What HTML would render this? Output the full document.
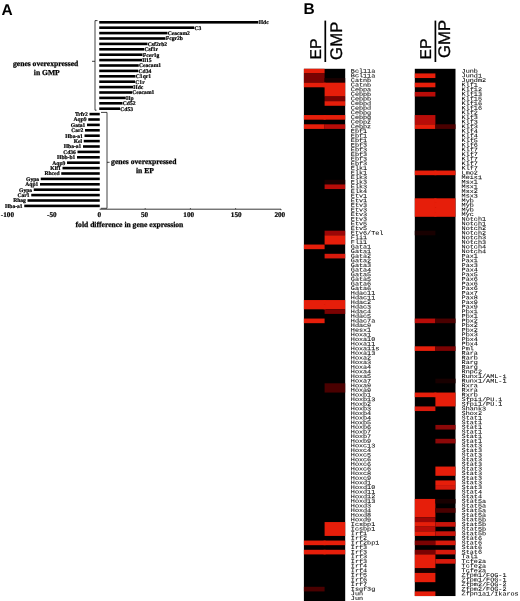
<!DOCTYPE html>
<html><head><meta charset="utf-8"><title>Figure</title>
<style>
html,body{margin:0;padding:0;background:#fff;}
body{width:520px;height:601px;overflow:hidden;}
svg{display:block;text-rendering:geometricPrecision;}
.lab text{font-family:"Liberation Mono","DejaVu Sans Mono",monospace;font-size:6.8px;fill:#000;stroke:#000;stroke-width:0.07px;}
.hd{font-family:"Liberation Sans",Arial,sans-serif;font-size:16px;fill:#000;stroke:#000;stroke-width:0.3px;}
.pl{font-family:"Liberation Sans",Arial,sans-serif;font-weight:bold;fill:#000;}
.bl text{font-family:"Liberation Serif","Times New Roman",serif;font-weight:bold;font-size:5.6px;fill:#000;stroke:#000;stroke-width:0.2px;}
.ax text{font-family:"Liberation Serif","Times New Roman",serif;font-weight:bold;font-size:7.2px;fill:#000;stroke:#000;stroke-width:0.2px;}
.tt text{font-family:"Liberation Serif","Times New Roman",serif;font-weight:bold;font-size:7.6px;fill:#000;stroke:#000;stroke-width:0.25px;}
</style></head><body>
<svg width="520" height="601" viewBox="0 0 520 601">
<rect x="0" y="0" width="520" height="601" fill="#fff"/>
<rect x="303.9" y="68.8" width="41.30" height="533.20" fill="#000"/>
<rect x="303.9" y="68.80" width="20.70" height="4.62" fill="#e61e0a"/>
<rect x="303.9" y="73.42" width="20.70" height="9.25" fill="#7a0202"/>
<rect x="303.9" y="82.67" width="20.70" height="4.62" fill="#e61e0a"/>
<rect x="303.9" y="115.05" width="20.70" height="4.62" fill="#e61e0a"/>
<rect x="303.9" y="124.30" width="20.70" height="4.62" fill="#e61e0a"/>
<rect x="303.9" y="244.55" width="20.70" height="4.62" fill="#e61e0a"/>
<rect x="303.9" y="300.05" width="20.70" height="9.25" fill="#e61e0a"/>
<rect x="303.9" y="318.55" width="20.70" height="4.62" fill="#e61e0a"/>
<rect x="303.9" y="540.55" width="20.70" height="4.62" fill="#e61e0a"/>
<rect x="303.9" y="549.80" width="20.70" height="4.62" fill="#e61e0a"/>
<rect x="303.9" y="586.80" width="20.70" height="4.62" fill="#4a0000"/>
<rect x="324.6" y="78.05" width="20.60" height="4.62" fill="#180000"/>
<rect x="324.6" y="82.67" width="20.60" height="13.88" fill="#e61e0a"/>
<rect x="324.6" y="96.55" width="20.60" height="4.62" fill="#7a0202"/>
<rect x="324.6" y="101.17" width="20.60" height="4.62" fill="#e61e0a"/>
<rect x="324.6" y="115.05" width="20.60" height="4.62" fill="#e61e0a"/>
<rect x="324.6" y="124.30" width="20.60" height="4.62" fill="#b80c08"/>
<rect x="324.6" y="179.80" width="20.60" height="4.62" fill="#180000"/>
<rect x="324.6" y="184.43" width="20.60" height="4.62" fill="#b80c08"/>
<rect x="324.6" y="230.68" width="20.60" height="4.62" fill="#9c0606"/>
<rect x="324.6" y="235.30" width="20.60" height="9.25" fill="#e61e0a"/>
<rect x="324.6" y="253.80" width="20.60" height="4.62" fill="#d81a0c"/>
<rect x="324.6" y="300.05" width="20.60" height="9.25" fill="#e61e0a"/>
<rect x="324.6" y="309.30" width="20.60" height="4.62" fill="#7a0202"/>
<rect x="324.6" y="383.30" width="20.60" height="9.25" fill="#4a0000"/>
<rect x="324.6" y="522.05" width="20.60" height="13.88" fill="#e61e0a"/>
<rect x="324.6" y="540.55" width="20.60" height="4.62" fill="#e61e0a"/>
<rect x="324.6" y="549.80" width="20.60" height="4.62" fill="#e61e0a"/>
<rect x="323.6" y="82.67" width="2" height="4.62" fill="#e61e0a"/>
<rect x="323.6" y="115.05" width="2" height="4.62" fill="#e61e0a"/>
<rect x="323.6" y="300.05" width="2" height="4.62" fill="#e61e0a"/>
<rect x="323.6" y="304.68" width="2" height="4.62" fill="#e61e0a"/>
<rect x="323.6" y="540.55" width="2" height="4.62" fill="#e61e0a"/>
<rect x="323.6" y="549.80" width="2" height="4.62" fill="#e61e0a"/>
<g class="lab">
<text transform="translate(350.8 72.70) scale(1 .85) rotate(0.3)">Bcl11a</text>
<text transform="translate(350.8 77.33) scale(1 .85) rotate(0.3)">Bcl11a</text>
<text transform="translate(350.8 81.95) scale(1 .85) rotate(0.3)">Catnb</text>
<text transform="translate(350.8 86.58) scale(1 .85) rotate(0.3)">Catnb</text>
<text transform="translate(350.8 91.20) scale(1 .85) rotate(0.3)">Cebpa</text>
<text transform="translate(350.8 95.83) scale(1 .85) rotate(0.3)">Cebpb</text>
<text transform="translate(350.8 100.45) scale(1 .85) rotate(0.3)">Cebpb</text>
<text transform="translate(350.8 105.08) scale(1 .85) rotate(0.3)">Cebpd</text>
<text transform="translate(350.8 109.70) scale(1 .85) rotate(0.3)">Cebpd</text>
<text transform="translate(350.8 114.33) scale(1 .85) rotate(0.3)">Cebpg</text>
<text transform="translate(350.8 118.95) scale(1 .85) rotate(0.3)">Cebpg</text>
<text transform="translate(350.8 123.58) scale(1 .85) rotate(0.3)">Cebpz</text>
<text transform="translate(350.8 128.20) scale(1 .85) rotate(0.3)">Cebpz</text>
<text transform="translate(350.8 132.83) scale(1 .85) rotate(0.3)">Ebf1</text>
<text transform="translate(350.8 137.45) scale(1 .85) rotate(0.3)">Ebf1</text>
<text transform="translate(350.8 142.08) scale(1 .85) rotate(0.3)">Ebf1</text>
<text transform="translate(350.8 146.70) scale(1 .85) rotate(0.3)">Ebf3</text>
<text transform="translate(350.8 151.33) scale(1 .85) rotate(0.3)">Ebf3</text>
<text transform="translate(350.8 155.95) scale(1 .85) rotate(0.3)">Ebf3</text>
<text transform="translate(350.8 160.58) scale(1 .85) rotate(0.3)">Ebf3</text>
<text transform="translate(350.8 165.20) scale(1 .85) rotate(0.3)">Ebf3</text>
<text transform="translate(350.8 169.83) scale(1 .85) rotate(0.3)">Elk1</text>
<text transform="translate(350.8 174.45) scale(1 .85) rotate(0.3)">Elk1</text>
<text transform="translate(350.8 179.08) scale(1 .85) rotate(0.3)">Elk3</text>
<text transform="translate(350.8 183.70) scale(1 .85) rotate(0.3)">Elk3</text>
<text transform="translate(350.8 188.33) scale(1 .85) rotate(0.3)">Elk3</text>
<text transform="translate(350.8 192.95) scale(1 .85) rotate(0.3)">Elk4</text>
<text transform="translate(350.8 197.58) scale(1 .85) rotate(0.3)">Etv1</text>
<text transform="translate(350.8 202.20) scale(1 .85) rotate(0.3)">Etv1</text>
<text transform="translate(350.8 206.83) scale(1 .85) rotate(0.3)">Etv3</text>
<text transform="translate(350.8 211.45) scale(1 .85) rotate(0.3)">Etv3</text>
<text transform="translate(350.8 216.08) scale(1 .85) rotate(0.3)">Etv3</text>
<text transform="translate(350.8 220.70) scale(1 .85) rotate(0.3)">Etv3</text>
<text transform="translate(350.8 225.33) scale(1 .85) rotate(0.3)">Etv5</text>
<text transform="translate(350.8 229.95) scale(1 .85) rotate(0.3)">Etv5</text>
<text transform="translate(350.8 234.58) scale(1 .85) rotate(0.3)">Etv6/Tel</text>
<text transform="translate(350.8 239.20) scale(1 .85) rotate(0.3)">Fli1</text>
<text transform="translate(350.8 243.83) scale(1 .85) rotate(0.3)">Fli1</text>
<text transform="translate(350.8 248.45) scale(1 .85) rotate(0.3)">Gata1</text>
<text transform="translate(350.8 253.08) scale(1 .85) rotate(0.3)">Gata1</text>
<text transform="translate(350.8 257.70) scale(1 .85) rotate(0.3)">Gata2</text>
<text transform="translate(350.8 262.32) scale(1 .85) rotate(0.3)">Gata2</text>
<text transform="translate(350.8 266.95) scale(1 .85) rotate(0.3)">Gata3</text>
<text transform="translate(350.8 271.57) scale(1 .85) rotate(0.3)">Gata4</text>
<text transform="translate(350.8 276.20) scale(1 .85) rotate(0.3)">Gata5</text>
<text transform="translate(350.8 280.82) scale(1 .85) rotate(0.3)">Gata5</text>
<text transform="translate(350.8 285.45) scale(1 .85) rotate(0.3)">Gata6</text>
<text transform="translate(350.8 290.07) scale(1 .85) rotate(0.3)">Gata6</text>
<text transform="translate(350.8 294.70) scale(1 .85) rotate(0.3)">Hdac11</text>
<text transform="translate(350.8 299.32) scale(1 .85) rotate(0.3)">Hdac11</text>
<text transform="translate(350.8 303.95) scale(1 .85) rotate(0.3)">Hdac2</text>
<text transform="translate(350.8 308.57) scale(1 .85) rotate(0.3)">Hdac3</text>
<text transform="translate(350.8 313.20) scale(1 .85) rotate(0.3)">Hdac4</text>
<text transform="translate(350.8 317.82) scale(1 .85) rotate(0.3)">Hdac5</text>
<text transform="translate(350.8 322.45) scale(1 .85) rotate(0.3)">Hdac7a</text>
<text transform="translate(350.8 327.07) scale(1 .85) rotate(0.3)">Hdac9</text>
<text transform="translate(350.8 331.70) scale(1 .85) rotate(0.3)">Hesx1</text>
<text transform="translate(350.8 336.32) scale(1 .85) rotate(0.3)">Hoxa1</text>
<text transform="translate(350.8 340.95) scale(1 .85) rotate(0.3)">Hoxa10</text>
<text transform="translate(350.8 345.57) scale(1 .85) rotate(0.3)">Hoxa11</text>
<text transform="translate(350.8 350.20) scale(1 .85) rotate(0.3)">Hoxa11s</text>
<text transform="translate(350.8 354.82) scale(1 .85) rotate(0.3)">Hoxa13</text>
<text transform="translate(350.8 359.45) scale(1 .85) rotate(0.3)">Hoxa2</text>
<text transform="translate(350.8 364.07) scale(1 .85) rotate(0.3)">Hoxa3</text>
<text transform="translate(350.8 368.70) scale(1 .85) rotate(0.3)">Hoxa4</text>
<text transform="translate(350.8 373.32) scale(1 .85) rotate(0.3)">Hoxa4</text>
<text transform="translate(350.8 377.95) scale(1 .85) rotate(0.3)">Hoxa5</text>
<text transform="translate(350.8 382.57) scale(1 .85) rotate(0.3)">Hoxa7</text>
<text transform="translate(350.8 387.20) scale(1 .85) rotate(0.3)">Hoxa9</text>
<text transform="translate(350.8 391.82) scale(1 .85) rotate(0.3)">Hoxa9</text>
<text transform="translate(350.8 396.45) scale(1 .85) rotate(0.3)">Hoxb1</text>
<text transform="translate(350.8 401.07) scale(1 .85) rotate(0.3)">Hoxb13</text>
<text transform="translate(350.8 405.70) scale(1 .85) rotate(0.3)">Hoxb2</text>
<text transform="translate(350.8 410.32) scale(1 .85) rotate(0.3)">Hoxb3</text>
<text transform="translate(350.8 414.95) scale(1 .85) rotate(0.3)">Hoxb4</text>
<text transform="translate(350.8 419.57) scale(1 .85) rotate(0.3)">Hoxb4</text>
<text transform="translate(350.8 424.20) scale(1 .85) rotate(0.3)">Hoxb5</text>
<text transform="translate(350.8 428.82) scale(1 .85) rotate(0.3)">Hoxb6</text>
<text transform="translate(350.8 433.45) scale(1 .85) rotate(0.3)">Hoxb7</text>
<text transform="translate(350.8 438.07) scale(1 .85) rotate(0.3)">Hoxb7</text>
<text transform="translate(350.8 442.70) scale(1 .85) rotate(0.3)">Hoxb9</text>
<text transform="translate(350.8 447.32) scale(1 .85) rotate(0.3)">Hoxc13</text>
<text transform="translate(350.8 451.95) scale(1 .85) rotate(0.3)">Hoxc4</text>
<text transform="translate(350.8 456.57) scale(1 .85) rotate(0.3)">Hoxc5</text>
<text transform="translate(350.8 461.20) scale(1 .85) rotate(0.3)">Hoxc6</text>
<text transform="translate(350.8 465.82) scale(1 .85) rotate(0.3)">Hoxc6</text>
<text transform="translate(350.8 470.45) scale(1 .85) rotate(0.3)">Hoxc6</text>
<text transform="translate(350.8 475.07) scale(1 .85) rotate(0.3)">Hoxc8</text>
<text transform="translate(350.8 479.70) scale(1 .85) rotate(0.3)">Hoxc9</text>
<text transform="translate(350.8 484.32) scale(1 .85) rotate(0.3)">Hoxd1</text>
<text transform="translate(350.8 488.95) scale(1 .85) rotate(0.3)">Hoxd10</text>
<text transform="translate(350.8 493.57) scale(1 .85) rotate(0.3)">Hoxd11</text>
<text transform="translate(350.8 498.20) scale(1 .85) rotate(0.3)">Hoxd12</text>
<text transform="translate(350.8 502.82) scale(1 .85) rotate(0.3)">Hoxd13</text>
<text transform="translate(350.8 507.45) scale(1 .85) rotate(0.3)">Hoxd3</text>
<text transform="translate(350.8 512.08) scale(1 .85) rotate(0.3)">Hoxd4</text>
<text transform="translate(350.8 516.70) scale(1 .85) rotate(0.3)">Hoxd8</text>
<text transform="translate(350.8 521.32) scale(1 .85) rotate(0.3)">Hoxd9</text>
<text transform="translate(350.8 525.95) scale(1 .85) rotate(0.3)">Icsbp1</text>
<text transform="translate(350.8 530.57) scale(1 .85) rotate(0.3)">Icsbp1</text>
<text transform="translate(350.8 535.20) scale(1 .85) rotate(0.3)">Irf1</text>
<text transform="translate(350.8 539.82) scale(1 .85) rotate(0.3)">Irf2</text>
<text transform="translate(350.8 544.45) scale(1 .85) rotate(0.3)">Irf2bp1</text>
<text transform="translate(350.8 549.07) scale(1 .85) rotate(0.3)">Irf3</text>
<text transform="translate(350.8 553.70) scale(1 .85) rotate(0.3)">Irf3</text>
<text transform="translate(350.8 558.32) scale(1 .85) rotate(0.3)">Irf3</text>
<text transform="translate(350.8 562.95) scale(1 .85) rotate(0.3)">Irf3</text>
<text transform="translate(350.8 567.57) scale(1 .85) rotate(0.3)">Irf4</text>
<text transform="translate(350.8 572.20) scale(1 .85) rotate(0.3)">Irf4</text>
<text transform="translate(350.8 576.82) scale(1 .85) rotate(0.3)">Irf5</text>
<text transform="translate(350.8 581.45) scale(1 .85) rotate(0.3)">Irf6</text>
<text transform="translate(350.8 586.07) scale(1 .85) rotate(0.3)">Irf7</text>
<text transform="translate(350.8 590.70) scale(1 .85) rotate(0.3)">Isgf3g</text>
<text transform="translate(350.8 595.32) scale(1 .85) rotate(0.3)">Jun</text>
<text transform="translate(350.8 599.95) scale(1 .85) rotate(0.3)">Jun</text>
</g>
<rect x="414.8" y="68.8" width="40.70" height="527.25" fill="#000"/>
<rect x="414.8" y="73.42" width="20.60" height="4.62" fill="#e61e0a"/>
<rect x="414.8" y="82.67" width="20.60" height="4.62" fill="#e61e0a"/>
<rect x="414.8" y="91.92" width="20.60" height="4.62" fill="#b80c08"/>
<rect x="414.8" y="115.05" width="20.60" height="9.25" fill="#b80c08"/>
<rect x="414.8" y="124.30" width="20.60" height="4.62" fill="#e61e0a"/>
<rect x="414.8" y="170.55" width="20.60" height="4.62" fill="#e61e0a"/>
<rect x="414.8" y="198.30" width="20.60" height="18.50" fill="#e61e0a"/>
<rect x="414.8" y="230.68" width="20.60" height="4.62" fill="#180000"/>
<rect x="414.8" y="318.55" width="20.60" height="4.62" fill="#b80c08"/>
<rect x="414.8" y="346.30" width="20.60" height="4.62" fill="#e61e0a"/>
<rect x="414.8" y="392.55" width="20.60" height="4.62" fill="#e61e0a"/>
<rect x="414.8" y="406.43" width="20.60" height="4.62" fill="#d81a0c"/>
<rect x="414.8" y="498.93" width="20.60" height="18.50" fill="#e61e0a"/>
<rect x="414.8" y="517.42" width="20.60" height="4.62" fill="#9c0606"/>
<rect x="414.8" y="522.05" width="20.60" height="4.62" fill="#e61e0a"/>
<rect x="414.8" y="526.67" width="20.60" height="4.62" fill="#b80c08"/>
<rect x="414.8" y="531.30" width="20.60" height="4.62" fill="#e61e0a"/>
<rect x="414.8" y="540.55" width="20.60" height="4.62" fill="#7a0202"/>
<rect x="414.8" y="549.80" width="20.60" height="4.62" fill="#7a0202"/>
<rect x="414.8" y="554.42" width="20.60" height="13.88" fill="#e61e0a"/>
<rect x="414.8" y="568.30" width="20.60" height="4.62" fill="#180000"/>
<rect x="414.8" y="572.92" width="20.60" height="9.25" fill="#e61e0a"/>
<rect x="414.8" y="591.42" width="20.60" height="4.62" fill="#e61e0a"/>
<rect x="435.4" y="124.30" width="20.10" height="4.62" fill="#4a0000"/>
<rect x="435.4" y="170.55" width="20.10" height="4.62" fill="#e61e0a"/>
<rect x="435.4" y="198.30" width="20.10" height="18.50" fill="#e61e0a"/>
<rect x="435.4" y="318.55" width="20.10" height="4.62" fill="#4a0000"/>
<rect x="435.4" y="346.30" width="20.10" height="4.62" fill="#7a0202"/>
<rect x="435.4" y="378.68" width="20.10" height="4.62" fill="#180000"/>
<rect x="435.4" y="392.55" width="20.10" height="13.88" fill="#e61e0a"/>
<rect x="435.4" y="424.93" width="20.10" height="4.62" fill="#8c0808"/>
<rect x="435.4" y="438.80" width="20.10" height="4.62" fill="#8c0808"/>
<rect x="435.4" y="466.55" width="20.10" height="9.25" fill="#e61e0a"/>
<rect x="435.4" y="480.43" width="20.10" height="4.62" fill="#e61e0a"/>
<rect x="435.4" y="485.05" width="20.10" height="4.62" fill="#d81a0c"/>
<rect x="435.4" y="498.93" width="20.10" height="4.62" fill="#180000"/>
<rect x="435.4" y="508.18" width="20.10" height="4.62" fill="#4a0000"/>
<rect x="435.4" y="522.05" width="20.10" height="4.62" fill="#c8140a"/>
<rect x="435.4" y="531.30" width="20.10" height="4.62" fill="#c8140a"/>
<rect x="435.4" y="540.55" width="20.10" height="4.62" fill="#d81a0c"/>
<rect x="435.4" y="549.80" width="20.10" height="4.62" fill="#d81a0c"/>
<rect x="435.4" y="559.05" width="20.10" height="4.62" fill="#d81a0c"/>
<rect x="434.4" y="170.55" width="2" height="4.62" fill="#e61e0a"/>
<rect x="434.4" y="198.30" width="2" height="4.62" fill="#e61e0a"/>
<rect x="434.4" y="202.93" width="2" height="4.62" fill="#e61e0a"/>
<rect x="434.4" y="207.55" width="2" height="4.62" fill="#e61e0a"/>
<rect x="434.4" y="212.18" width="2" height="4.62" fill="#e61e0a"/>
<rect x="434.4" y="392.55" width="2" height="4.62" fill="#e61e0a"/>
<g class="lab">
<text transform="translate(461.6 72.70) scale(1 .85) rotate(0.3)">Junb</text>
<text transform="translate(461.6 77.33) scale(1 .85) rotate(0.3)">Jund1</text>
<text transform="translate(461.6 81.95) scale(1 .85) rotate(0.3)">Jundm2</text>
<text transform="translate(461.6 86.58) scale(1 .85) rotate(0.3)">Klf1</text>
<text transform="translate(461.6 91.20) scale(1 .85) rotate(0.3)">Klf12</text>
<text transform="translate(461.6 95.83) scale(1 .85) rotate(0.3)">Klf13</text>
<text transform="translate(461.6 100.45) scale(1 .85) rotate(0.3)">Klf15</text>
<text transform="translate(461.6 105.08) scale(1 .85) rotate(0.3)">Klf16</text>
<text transform="translate(461.6 109.70) scale(1 .85) rotate(0.3)">Klf16</text>
<text transform="translate(461.6 114.33) scale(1 .85) rotate(0.3)">Klf2</text>
<text transform="translate(461.6 118.95) scale(1 .85) rotate(0.3)">Klf3</text>
<text transform="translate(461.6 123.58) scale(1 .85) rotate(0.3)">Klf3</text>
<text transform="translate(461.6 128.20) scale(1 .85) rotate(0.3)">Klf3</text>
<text transform="translate(461.6 132.83) scale(1 .85) rotate(0.3)">Klf4</text>
<text transform="translate(461.6 137.45) scale(1 .85) rotate(0.3)">Klf4</text>
<text transform="translate(461.6 142.08) scale(1 .85) rotate(0.3)">Klf5</text>
<text transform="translate(461.6 146.70) scale(1 .85) rotate(0.3)">Klf6</text>
<text transform="translate(461.6 151.33) scale(1 .85) rotate(0.3)">Klf7</text>
<text transform="translate(461.6 155.95) scale(1 .85) rotate(0.3)">Klf7</text>
<text transform="translate(461.6 160.58) scale(1 .85) rotate(0.3)">Klf7</text>
<text transform="translate(461.6 165.20) scale(1 .85) rotate(0.3)">Klf7</text>
<text transform="translate(461.6 169.83) scale(1 .85) rotate(0.3)">Klf7</text>
<text transform="translate(461.6 174.45) scale(1 .85) rotate(0.3)">Lmo2</text>
<text transform="translate(461.6 179.08) scale(1 .85) rotate(0.3)">Meis1</text>
<text transform="translate(461.6 183.70) scale(1 .85) rotate(0.3)">Msx1</text>
<text transform="translate(461.6 188.33) scale(1 .85) rotate(0.3)">Msx1</text>
<text transform="translate(461.6 192.95) scale(1 .85) rotate(0.3)">Msx2</text>
<text transform="translate(461.6 197.58) scale(1 .85) rotate(0.3)">Msx3</text>
<text transform="translate(461.6 202.20) scale(1 .85) rotate(0.3)">Myb</text>
<text transform="translate(461.6 206.83) scale(1 .85) rotate(0.3)">Myb</text>
<text transform="translate(461.6 211.45) scale(1 .85) rotate(0.3)">Myb</text>
<text transform="translate(461.6 216.08) scale(1 .85) rotate(0.3)">Myc</text>
<text transform="translate(461.6 220.70) scale(1 .85) rotate(0.3)">Notch1</text>
<text transform="translate(461.6 225.33) scale(1 .85) rotate(0.3)">Notch1</text>
<text transform="translate(461.6 229.95) scale(1 .85) rotate(0.3)">Notch2</text>
<text transform="translate(461.6 234.58) scale(1 .85) rotate(0.3)">Notch2</text>
<text transform="translate(461.6 239.20) scale(1 .85) rotate(0.3)">Notch3</text>
<text transform="translate(461.6 243.83) scale(1 .85) rotate(0.3)">Notch3</text>
<text transform="translate(461.6 248.45) scale(1 .85) rotate(0.3)">Notch4</text>
<text transform="translate(461.6 253.08) scale(1 .85) rotate(0.3)">Notch4</text>
<text transform="translate(461.6 257.70) scale(1 .85) rotate(0.3)">Pax1</text>
<text transform="translate(461.6 262.32) scale(1 .85) rotate(0.3)">Pax1</text>
<text transform="translate(461.6 266.95) scale(1 .85) rotate(0.3)">Pax3</text>
<text transform="translate(461.6 271.57) scale(1 .85) rotate(0.3)">Pax4</text>
<text transform="translate(461.6 276.20) scale(1 .85) rotate(0.3)">Pax5</text>
<text transform="translate(461.6 280.82) scale(1 .85) rotate(0.3)">Pax6</text>
<text transform="translate(461.6 285.45) scale(1 .85) rotate(0.3)">Pax6</text>
<text transform="translate(461.6 290.07) scale(1 .85) rotate(0.3)">Pax6</text>
<text transform="translate(461.6 294.70) scale(1 .85) rotate(0.3)">Pax7</text>
<text transform="translate(461.6 299.32) scale(1 .85) rotate(0.3)">Pax8</text>
<text transform="translate(461.6 303.95) scale(1 .85) rotate(0.3)">Pax9</text>
<text transform="translate(461.6 308.57) scale(1 .85) rotate(0.3)">Pax9</text>
<text transform="translate(461.6 313.20) scale(1 .85) rotate(0.3)">Pbx1</text>
<text transform="translate(461.6 317.82) scale(1 .85) rotate(0.3)">Pbx1</text>
<text transform="translate(461.6 322.45) scale(1 .85) rotate(0.3)">Pbx2</text>
<text transform="translate(461.6 327.07) scale(1 .85) rotate(0.3)">Pbx2</text>
<text transform="translate(461.6 331.70) scale(1 .85) rotate(0.3)">Pbx2</text>
<text transform="translate(461.6 336.32) scale(1 .85) rotate(0.3)">Pbx3</text>
<text transform="translate(461.6 340.95) scale(1 .85) rotate(0.3)">Pbx4</text>
<text transform="translate(461.6 345.57) scale(1 .85) rotate(0.3)">Pbx4</text>
<text transform="translate(461.6 350.20) scale(1 .85) rotate(0.3)">Pml</text>
<text transform="translate(461.6 354.82) scale(1 .85) rotate(0.3)">Rara</text>
<text transform="translate(461.6 359.45) scale(1 .85) rotate(0.3)">Rarb</text>
<text transform="translate(461.6 364.07) scale(1 .85) rotate(0.3)">Rarg</text>
<text transform="translate(461.6 368.70) scale(1 .85) rotate(0.3)">Rarg</text>
<text transform="translate(461.6 373.32) scale(1 .85) rotate(0.3)">Rnpc2</text>
<text transform="translate(461.6 377.95) scale(1 .85) rotate(0.3)">Runx1/AML-1</text>
<text transform="translate(461.6 382.57) scale(1 .85) rotate(0.3)">Runx1/AML-1</text>
<text transform="translate(461.6 387.20) scale(1 .85) rotate(0.3)">Rxra</text>
<text transform="translate(461.6 391.82) scale(1 .85) rotate(0.3)">Rxra</text>
<text transform="translate(461.6 396.45) scale(1 .85) rotate(0.3)">Rxrb</text>
<text transform="translate(461.6 401.07) scale(1 .85) rotate(0.3)">Sfpi1/PU.1</text>
<text transform="translate(461.6 405.70) scale(1 .85) rotate(0.3)">Sfpi1/PU.1</text>
<text transform="translate(461.6 410.32) scale(1 .85) rotate(0.3)">Shank3</text>
<text transform="translate(461.6 414.95) scale(1 .85) rotate(0.3)">Shox2</text>
<text transform="translate(461.6 419.57) scale(1 .85) rotate(0.3)">Stat1</text>
<text transform="translate(461.6 424.20) scale(1 .85) rotate(0.3)">Stat1</text>
<text transform="translate(461.6 428.82) scale(1 .85) rotate(0.3)">Stat1</text>
<text transform="translate(461.6 433.45) scale(1 .85) rotate(0.3)">Stat1</text>
<text transform="translate(461.6 438.07) scale(1 .85) rotate(0.3)">Stat1</text>
<text transform="translate(461.6 442.70) scale(1 .85) rotate(0.3)">Stat1</text>
<text transform="translate(461.6 447.32) scale(1 .85) rotate(0.3)">Stat3</text>
<text transform="translate(461.6 451.95) scale(1 .85) rotate(0.3)">Stat3</text>
<text transform="translate(461.6 456.57) scale(1 .85) rotate(0.3)">Stat3</text>
<text transform="translate(461.6 461.20) scale(1 .85) rotate(0.3)">Stat3</text>
<text transform="translate(461.6 465.82) scale(1 .85) rotate(0.3)">Stat3</text>
<text transform="translate(461.6 470.45) scale(1 .85) rotate(0.3)">Stat3</text>
<text transform="translate(461.6 475.07) scale(1 .85) rotate(0.3)">Stat3</text>
<text transform="translate(461.6 479.70) scale(1 .85) rotate(0.3)">Stat3</text>
<text transform="translate(461.6 484.32) scale(1 .85) rotate(0.3)">Stat3</text>
<text transform="translate(461.6 488.95) scale(1 .85) rotate(0.3)">Stat3</text>
<text transform="translate(461.6 493.57) scale(1 .85) rotate(0.3)">Stat4</text>
<text transform="translate(461.6 498.20) scale(1 .85) rotate(0.3)">Stat4</text>
<text transform="translate(461.6 502.82) scale(1 .85) rotate(0.3)">Stat5a</text>
<text transform="translate(461.6 507.45) scale(1 .85) rotate(0.3)">Stat5a</text>
<text transform="translate(461.6 512.08) scale(1 .85) rotate(0.3)">Stat5a</text>
<text transform="translate(461.6 516.70) scale(1 .85) rotate(0.3)">Stat5a</text>
<text transform="translate(461.6 521.32) scale(1 .85) rotate(0.3)">Stat5b</text>
<text transform="translate(461.6 525.95) scale(1 .85) rotate(0.3)">Stat5b</text>
<text transform="translate(461.6 530.57) scale(1 .85) rotate(0.3)">Stat5b</text>
<text transform="translate(461.6 535.20) scale(1 .85) rotate(0.3)">Stat5b</text>
<text transform="translate(461.6 539.82) scale(1 .85) rotate(0.3)">Stat6</text>
<text transform="translate(461.6 544.45) scale(1 .85) rotate(0.3)">Stat6</text>
<text transform="translate(461.6 549.07) scale(1 .85) rotate(0.3)">Stat6</text>
<text transform="translate(461.6 553.70) scale(1 .85) rotate(0.3)">Stat6</text>
<text transform="translate(461.6 558.32) scale(1 .85) rotate(0.3)">Tal1</text>
<text transform="translate(461.6 562.95) scale(1 .85) rotate(0.3)">Tcfe2a</text>
<text transform="translate(461.6 567.57) scale(1 .85) rotate(0.3)">Tcfe2a</text>
<text transform="translate(461.6 572.20) scale(1 .85) rotate(0.3)">Tcfe2a</text>
<text transform="translate(461.6 576.82) scale(1 .85) rotate(0.3)">Zfpm1/FOG-1</text>
<text transform="translate(461.6 581.45) scale(1 .85) rotate(0.3)">Zfpm1/FOG-1</text>
<text transform="translate(461.6 586.07) scale(1 .85) rotate(0.3)">Zfpm2/FOG-2</text>
<text transform="translate(461.6 590.70) scale(1 .85) rotate(0.3)">Zfpm2/FOG-2</text>
<text transform="translate(461.6 595.32) scale(1 .85) rotate(0.3)">Zfpn1a1/Ikaros</text>
</g>
<rect x="324.45" y="20.6" width="1.7" height="41.4" fill="#000"/>
<text class="hd" style="font-size:15.7px" transform="translate(321.0,59.5) rotate(-90)">EP</text>
<text class="hd" style="font-size:16.8px" transform="translate(341.6,59.9) rotate(-90)">GMP</text>
<rect x="434.55" y="20.6" width="1.7" height="41.4" fill="#000"/>
<text class="hd" style="font-size:15.7px" transform="translate(431.1,59.4) rotate(-90)">EP</text>
<text class="hd" style="font-size:16.8px" transform="translate(449.8,58.0) rotate(-90)">GMP</text>
<text class="pl" x="1.6" y="14.6" style="font-size:15.5px">A</text>
<text class="pl" x="303.4" y="13.8" style="font-size:15.5px">B</text>
<g class="bl">
<rect x="99.25" y="21.00" width="159.15" height="2.6" fill="#000"/>
<text x="258.70" y="24.20">Hdc</text>
<rect x="99.25" y="26.40" width="95.00" height="2.6" fill="#000"/>
<text x="194.55" y="29.60">C3</text>
<rect x="99.25" y="31.80" width="68.25" height="2.6" fill="#000"/>
<text x="167.80" y="35.00">Ceacam2</text>
<rect x="99.25" y="37.20" width="66.25" height="2.6" fill="#000"/>
<text x="165.80" y="40.40">Fcgr2b</text>
<rect x="99.25" y="42.60" width="48.25" height="2.6" fill="#000"/>
<text x="147.80" y="45.80">Csf2rb2</text>
<rect x="99.25" y="48.00" width="45.00" height="2.6" fill="#000"/>
<text x="144.55" y="51.20">Csf1r</text>
<rect x="99.25" y="53.40" width="43.25" height="2.6" fill="#000"/>
<text x="142.80" y="56.60">Fcer1g</text>
<rect x="99.25" y="58.80" width="42.75" height="2.6" fill="#000"/>
<text x="142.30" y="62.00">Il15</text>
<rect x="99.25" y="64.20" width="39.50" height="2.6" fill="#000"/>
<text x="139.05" y="67.40">Ceacam1</text>
<rect x="99.25" y="69.60" width="39.00" height="2.6" fill="#000"/>
<text x="138.55" y="72.80">Cd34</text>
<rect x="99.25" y="75.00" width="36.25" height="2.6" fill="#000"/>
<text x="135.80" y="78.20">C1qr1</text>
<rect x="99.25" y="80.40" width="35.75" height="2.6" fill="#000"/>
<text x="135.30" y="83.60">C1r</text>
<rect x="99.25" y="85.80" width="33.75" height="2.6" fill="#000"/>
<text x="133.30" y="89.00">Hdc</text>
<rect x="99.25" y="91.20" width="32.75" height="2.6" fill="#000"/>
<text x="132.30" y="94.40">Ceacam1</text>
<rect x="99.25" y="96.60" width="26.50" height="2.6" fill="#000"/>
<text x="126.05" y="99.80">Hp</text>
<rect x="99.25" y="102.00" width="23.25" height="2.6" fill="#000"/>
<text x="122.80" y="105.20">Cd52</text>
<rect x="99.25" y="107.40" width="20.75" height="2.6" fill="#000"/>
<text x="120.30" y="110.60">Cd53</text>
<rect x="89.5" y="112.80" width="10.25" height="2.6" fill="#000"/>
<text x="87.90" y="116.00" text-anchor="end">Trfr2</text>
<rect x="88.25" y="118.20" width="11.50" height="2.6" fill="#000"/>
<text x="86.65" y="121.40" text-anchor="end">Aqp9</text>
<rect x="87" y="123.60" width="12.75" height="2.6" fill="#000"/>
<text x="85.40" y="126.80" text-anchor="end">Gata1</text>
<rect x="85" y="129.00" width="14.75" height="2.6" fill="#000"/>
<text x="83.40" y="132.20" text-anchor="end">Car2</text>
<rect x="84.5" y="134.40" width="15.25" height="2.6" fill="#000"/>
<text x="82.90" y="137.60" text-anchor="end">Hba-a1</text>
<rect x="83.75" y="139.80" width="16.00" height="2.6" fill="#000"/>
<text x="82.15" y="143.00" text-anchor="end">Kel</text>
<rect x="83" y="145.20" width="16.75" height="2.6" fill="#000"/>
<text x="81.40" y="148.40" text-anchor="end">Hba-a1</text>
<rect x="77.5" y="150.60" width="22.25" height="2.6" fill="#000"/>
<text x="75.90" y="153.80" text-anchor="end">Cd36</text>
<rect x="77" y="156.00" width="22.75" height="2.6" fill="#000"/>
<text x="75.40" y="159.20" text-anchor="end">Hbb-b1</text>
<rect x="67" y="161.40" width="32.75" height="2.6" fill="#000"/>
<text x="65.40" y="164.60" text-anchor="end">Aqp9</text>
<rect x="62.5" y="166.80" width="37.25" height="2.6" fill="#000"/>
<text x="60.90" y="170.00" text-anchor="end">Klf1</text>
<rect x="61.25" y="172.20" width="38.50" height="2.6" fill="#000"/>
<text x="59.65" y="175.40" text-anchor="end">Rhced</text>
<rect x="40.75" y="177.60" width="59.00" height="2.6" fill="#000"/>
<text x="39.15" y="180.80" text-anchor="end">Gypa</text>
<rect x="40" y="183.00" width="59.75" height="2.6" fill="#000"/>
<text x="38.40" y="186.20" text-anchor="end">Aqp1</text>
<rect x="33.75" y="188.40" width="66.00" height="2.6" fill="#000"/>
<text x="32.15" y="191.60" text-anchor="end">Gypa</text>
<rect x="31.25" y="193.80" width="68.50" height="2.6" fill="#000"/>
<text x="29.65" y="197.00" text-anchor="end">Car1</text>
<rect x="27.5" y="199.20" width="72.25" height="2.6" fill="#000"/>
<text x="25.90" y="202.40" text-anchor="end">Rhag</text>
<rect x="24.25" y="204.60" width="75.50" height="2.6" fill="#000"/>
<text x="22.65" y="207.80" text-anchor="end">Hba-a1</text>
</g>
<path d="M97.5 20.6H95V110.2H96.5 M95 61.3H92" fill="none" stroke="#111" stroke-width="0.8"/>
<path d="M101 112.4H107V208.3H100.8 M107 162.3H109.6" fill="none" stroke="#111" stroke-width="0.8"/>
<path d="M99.7 209.2H281 M190.4 209.2v-1 M235.6 209.2v-1 M145.2 209.2v-1 M281 209.2v1" fill="none" stroke="#222" stroke-width="0.9"/>
<g class="ax">
<text x="7.4" y="217.2" text-anchor="middle">-100</text>
<text x="51.9" y="217.2" text-anchor="middle">-50</text>
<text x="99.3" y="217.2" text-anchor="middle">0</text>
<text x="144.6" y="217.2" text-anchor="middle">50</text>
<text x="188.7" y="217.2" text-anchor="middle">100</text>
<text x="236.2" y="217.2" text-anchor="middle">150</text>
<text x="279.8" y="217.2" text-anchor="middle">200</text>
</g>
<g class="tt">
<text x="75.6" y="226.9">fold difference in gene expression</text>
<text x="13" y="65.9">genes overexpressed</text>
<text x="33.8" y="75.4">in GMP</text>
<text x="111.1" y="164.2">genes overexpressed</text>
<text x="136" y="172.9">in EP</text>
</g>
</svg>
</body></html>
